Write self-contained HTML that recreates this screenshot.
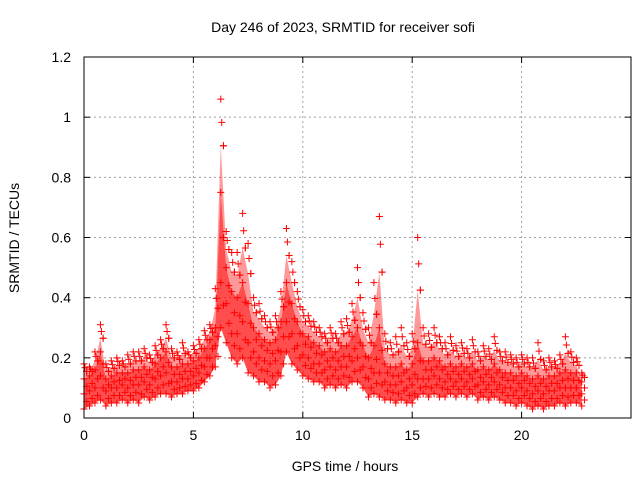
<!DOCTYPE html>
<html><head><meta charset="utf-8"><style>
body{margin:0;background:#fff}
svg text{font-family:"Liberation Sans",sans-serif;font-size:14px;fill:#000}
</style></head><body>
<svg width="640" height="480" id="c">
<rect width="640" height="480" fill="#fff"/>
<text x="343" y="32" text-anchor="middle">Day 246 of 2023, SRMTID for receiver sofi</text>
<text x="345" y="471" text-anchor="middle">GPS time / hours</text>
<text transform="translate(19,238) rotate(-90)" text-anchor="middle">SRMTID / TECUs</text>
<g id="grid"></g><g id="marks"></g><g id="axes"></g>
</svg>
<script>
const times=[0,0.25,0.5,0.75,1,1.25,1.5,1.75,2,2.25,2.5,2.75,3,3.25,3.5,3.75,4,4.25,4.5,4.75,5,5.25,5.5,5.75,6,6.25,6.5,6.75,7,7.25,7.5,7.75,8,8.25,8.5,8.75,9,9.25,9.5,9.75,10,10.25,10.5,10.75,11,11.25,11.5,11.75,12,12.25,12.5,12.75,13,13.25,13.5,13.75,14,14.25,14.5,14.75,15,15.25,15.5,15.75,16,16.25,16.5,16.75,17,17.25,17.5,17.75,18,18.25,18.5,18.75,19,19.25,19.5,19.75,20,20.25,20.5,20.75,21,21.25,21.5,21.75,22,22.25,22.5,22.75];
const lo=[.03,.04,.05,.06,.04,.05,.05,.06,.05,.06,.05,.07,.06,.07,.08,.08,.07,.08,.08,.09,.09,.10,.12,.14,.17,.30,.25,.20,.18,.20,.15,.14,.12,.12,.10,.11,.14,.22,.18,.16,.14,.13,.12,.12,.10,.11,.10,.11,.10,.12,.12,.10,.07,.08,.07,.06,.06,.05,.06,.05,.05,.07,.08,.07,.08,.07,.07,.08,.07,.08,.07,.08,.06,.07,.06,.07,.06,.05,.05,.04,.05,.04,.03,.04,.03,.04,.04,.05,.04,.05,.05,.04];
const q1=[.08,.09,.10,.14,.09,.10,.10,.11,.10,.11,.11,.12,.11,.13,.14,.15,.12,.12,.13,.13,.14,.15,.17,.20,.24,.45,.38,.28,.28,.32,.25,.22,.20,.19,.18,.19,.22,.32,.28,.24,.21,.20,.18,.18,.16,.17,.16,.17,.17,.19,.20,.17,.13,.15,.15,.12,.11,.11,.12,.10,.11,.13,.13,.13,.14,.13,.12,.13,.12,.13,.12,.13,.11,.12,.11,.12,.11,.10,.10,.09,.10,.09,.08,.09,.08,.09,.09,.10,.10,.10,.10,.08];
const q2=[.13,.14,.16,.22,.13,.14,.15,.15,.15,.16,.16,.17,.16,.18,.20,.22,.17,.17,.18,.18,.19,.20,.23,.26,.30,.75,.50,.42,.40,.45,.38,.30,.28,.26,.25,.26,.32,.45,.38,.32,.28,.27,.25,.24,.22,.23,.22,.24,.24,.27,.30,.24,.20,.24,.30,.18,.17,.17,.18,.16,.18,.25,.19,.19,.20,.19,.17,.18,.17,.18,.17,.18,.16,.17,.16,.18,.16,.15,.15,.14,.15,.14,.13,.14,.13,.14,.14,.15,.16,.15,.15,.12];
const hi=[.18,.17,.22,.31,.18,.19,.20,.19,.21,.22,.22,.23,.21,.24,.26,.31,.23,.22,.25,.22,.24,.26,.29,.31,.43,1.06,.62,.55,.55,.68,.58,.40,.38,.34,.32,.34,.42,.63,.52,.42,.36,.34,.32,.30,.28,.30,.28,.32,.33,.38,.50,.35,.30,.45,.67,.28,.25,.27,.30,.25,.28,.60,.30,.28,.30,.27,.25,.27,.24,.25,.23,.26,.22,.24,.23,.27,.22,.22,.21,.20,.21,.20,.20,.25,.19,.20,.19,.21,.27,.22,.20,.15];
const xTicks=[0,5,10,15,20];
const yTicks=[0,0.2,0.4,0.6,0.8,1,1.2];
const yTickLabels=["0","0.2","0.4","0.6","0.8","1","1.2"];
const X0=84,X1=631,Y0=418,Y1=57,XMAX=25,YMAX=1.2;
const sx=v=>X0+(X1-X0)*v/XMAX, sy=v=>Y0-(Y0-Y1)*v/YMAX;
const NS="http://www.w3.org/2000/svg";
function mk(t,a,p){const e=document.createElementNS(NS,t);for(const k in a)e.setAttribute(k,a[k]);p.appendChild(e);return e;}
const grid=document.getElementById('grid'),marks=document.getElementById('marks'),axes=document.getElementById('axes');
xTicks.forEach((v,i)=>{
 if(v>0){const g=mk('line',{x1:sx(v),x2:sx(v),y1:Y0,y2:Y1,stroke:'#a0a0a0','stroke-dasharray':'2,3'},grid);
 
 }
 mk('line',{x1:sx(v),x2:sx(v),y1:Y0,y2:Y0-6,stroke:'#000'},axes);
 mk('line',{x1:sx(v),x2:sx(v),y1:Y1,y2:Y1+6,stroke:'#000'},axes);
 const t=mk('text',{x:sx(v),y:Y0+22,'text-anchor':'middle'},axes);t.textContent=v;
 
 
});
yTicks.forEach((v,i)=>{
 if(v>0&&v<YMAX){const g=mk('line',{x1:X0,x2:X1,y1:sy(v),y2:sy(v),stroke:'#a0a0a0','stroke-dasharray':'2,3'},grid);
 
 }
 mk('line',{x1:X0,x2:X0+6,y1:sy(v),y2:sy(v),stroke:'#000'},axes);
 mk('line',{x1:X1,x2:X1-6,y1:sy(v),y2:sy(v),stroke:'#000'},axes);
 const t=mk('text',{x:X0-13,y:sy(v)+5,'text-anchor':'end'},axes);t.textContent=yTickLabels[i];
 
 
});
const fr=mk('rect',{x:X0,y:Y1,width:X1-X0,height:Y0-Y1,fill:'none',stroke:'#000'},axes);


// density bands
let pts=times.map((t,i)=>sx(t)+','+sy(lo[i])).join(' ')+' '+times.map((t,i)=>sx(t)+','+sy(q2[i])).reverse().join(' ');
const band=mk('polygon',{points:pts,fill:'rgba(255,0,0,0.7)'},marks);


let pts2=times.map((t,i)=>sx(t)+','+sy(q2[i])).join(' ')+' '+times.map((t,i)=>sx(t)+','+sy((q2[i]+hi[i])/2)).reverse().join(' ');
const band2=mk('polygon',{points:pts2,fill:'rgba(255,0,0,0.4)'},marks);


function plus(x,y){const p=mk('path',{d:`M${x-3.5},${y}h7M${x},${y-3.5}v7`,stroke:'#f00','stroke-width':1,fill:'none'},marks);
 
 }
[lo,q1,q2,hi].forEach(s=>times.forEach((t,i)=>{
 plus(sx(t),sy(s[i]));
 plus(sx(t)+2.7,sy((s[i]+(s===lo?q1[i]:s===q1?q2[i]:s===q2?hi[i]:q2[i]))/2));
 if(s===hi){plus(sx(t)+1,sy((hi[i]*3+q2[i])/4));}
}));
</script>
</body></html>
